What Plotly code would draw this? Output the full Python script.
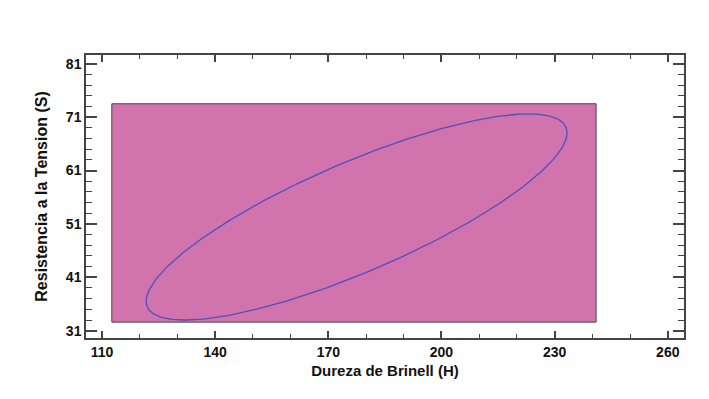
import numpy as np
import plotly.graph_objects as go

# Data extents (rectangle of the observed range)
hardness_range = [112.6, 241.0]      # Dureza de Brinell (H)
strength_range = [32.6, 73.5]        # Resistencia a la Tension (S)

# Confidence ellipse parameters
center_H = 177.5
center_S = 52.3
half_width_H = 55.8
half_height_S = 19.3
correlation = 0.817

x_ticks = [110, 140, 170, 200, 230, 260]
y_ticks = [31, 41, 51, 61, 71, 81]

rect_x = [hardness_range[0], hardness_range[1], hardness_range[1], hardness_range[0], hardness_range[0]]
rect_y = [strength_range[0], strength_range[0], strength_range[1], strength_range[1], strength_range[0]]

delta = np.arccos(correlation)
t = np.linspace(0, 2 * np.pi, 361)
ell_x = center_H + half_width_H * np.cos(t)
ell_y = center_S + half_height_S * np.cos(t - delta)

fig = go.Figure()
fig.add_trace(go.Scatter(x=rect_x, y=rect_y, mode="lines", fill="toself",
                         fillcolor="#D173AD", line=dict(color="#4a4a4a", width=1),
                         hoverinfo="skip", showlegend=False))
fig.add_trace(go.Scatter(x=ell_x, y=ell_y, mode="lines",
                         line=dict(color="#5050b8", width=1.3),
                         showlegend=False))

fam = "Liberation Sans, Arial, sans-serif"
font = dict(family=fam, color="#111", size=14, weight="bold")
axis_common = dict(showline=True, linecolor="#444", linewidth=1.5, mirror="ticks",
                   ticks="inside", tickcolor="#444", tickwidth=1.5, automargin=False,
                   showgrid=False, zeroline=False, tickfont=font)

fig.update_layout(
    width=709, height=399,
    margin=dict(l=86, r=25, t=55, b=61),
    paper_bgcolor="white", plot_bgcolor="white",
    xaxis=dict(range=[105.76, 264.3], tickvals=x_ticks, ticklen=7,
               minor=dict(dtick=10, tick0=110, ticks="inside", ticklen=4, tickcolor="#444", tickwidth=1.2),
               title=dict(text="Dureza de Brinell (H)", font=dict(family=fam, size=15, color="#111", weight="bold"), standoff=7),
               **axis_common),
    yaxis=dict(range=[29.63, 82.63], tickvals=y_ticks, ticklen=11,
               minor=dict(dtick=2, tick0=31, ticks="inside", ticklen=6, tickcolor="#444", tickwidth=1.2),
               title=dict(text="Resistencia a la Tension (S)", font=dict(family=fam, size=16, color="#111", weight="bold"), standoff=14),
               **axis_common),
)

fig.write_html("out.html", config={"displayModeBar": False},
               post_script="document.body.style.margin='0';")
